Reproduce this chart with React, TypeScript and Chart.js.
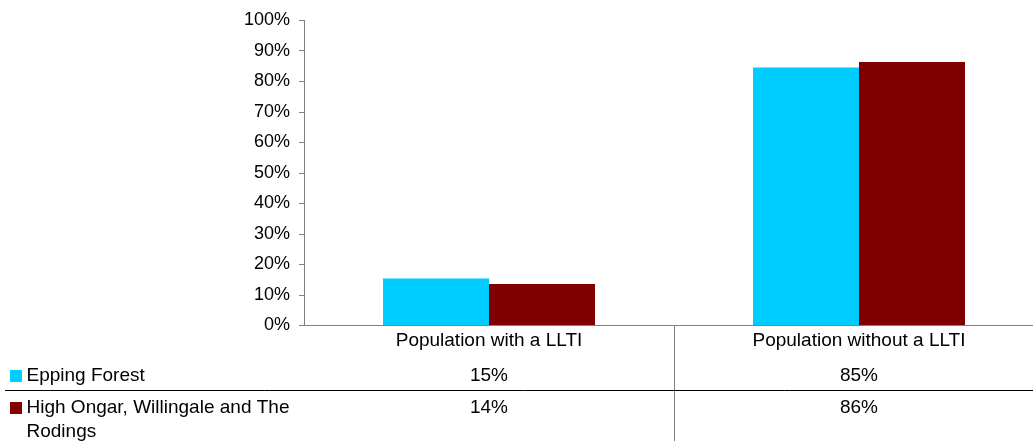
import React, { useEffect, useRef } from "react";
import { Chart, registerables } from "chart.js";

Chart.register(...registerables);

const categories = ["Population with a LLTI", "Population without a LLTI"];
const seriesNames = ["Epping Forest", "High Ongar, Willingale and The Rodings"];
const seriesLegendLines = [["Epping Forest"], ["High Ongar, Willingale and The", "Rodings"]];
const eppingForest = [15.4, 84.6];
const highOngar = [13.6, 86.4];
const eppingTable = ["15%", "85%"];
const highOngarTable = ["14%", "86%"];
const yTicks = [0, 10, 20, 30, 40, 50, 60, 70, 80, 90, 100];
const seriesColors = ["#00CCFF", "#800000"];

const FONT = '"Liberation Sans", Arial, sans-serif';
const TICK_FONT_SIZE = 18;
const TABLE_FONT_SIZE = 19;

const tablePlugin = {
  id: "dataTable",
  afterDraw(chart: any) {
    const ctx = chart.ctx;
    const xs = chart.scales.x;
    const area = chart.chartArea;
    const W = chart.width;
    const H = chart.height;
    ctx.save();
    ctx.font = `${TABLE_FONT_SIZE}px ${FONT}`;
    ctx.fillStyle = "#000000";
    ctx.textAlign = "center";
    ctx.textBaseline = "middle";
    const rowCat = 341;
    const rowVals = [376, 408];
    categories.forEach((c, i) => {
      const x = xs.getPixelForValue(i);
      ctx.fillText(c, x, rowCat);
      ctx.fillText(eppingTable[i], x, rowVals[0]);
      ctx.fillText(highOngarTable[i], x, rowVals[1]);
    });
    // vertical separators between categories
    ctx.strokeStyle = "#808080";
    ctx.lineWidth = 1;
    for (let i = 0; i < categories.length; i++) {
      const x = Math.round((xs.getPixelForValue(i) + xs.getPixelForValue(i + 1)) / 2) + 0.5;
      ctx.beginPath();
      ctx.moveTo(x, area.bottom);
      ctx.lineTo(x, H);
      ctx.stroke();
    }
    // horizontal line between rows
    ctx.strokeStyle = "#000000";
    ctx.beginPath();
    ctx.moveTo(5, 390.5);
    ctx.lineTo(W, 390.5);
    ctx.stroke();
    // legend keys
    ctx.textAlign = "left";
    const legendY = [[376], [408, 432]];
    seriesNames.forEach((_, s) => {
      ctx.fillStyle = seriesColors[s];
      ctx.fillRect(10, legendY[s][0] - 6, 12, 12);
      ctx.fillStyle = "#000000";
      seriesLegendLines[s].forEach((line, k) => {
        ctx.fillText(line, 26.5, legendY[s][k]);
      });
    });
    ctx.restore();
  },
};

export default function App() {
  const ref = useRef<HTMLCanvasElement>(null);
  useEffect(() => {
    if (!ref.current) return;
    const chart = new Chart(ref.current, {
      type: "bar",
      data: {
        labels: categories,
        datasets: [
          {
            label: seriesNames[0],
            data: eppingForest,
            backgroundColor: seriesColors[0],
            categoryPercentage: 0.573,
            barPercentage: 1,
          },
          {
            label: seriesNames[1],
            data: highOngar,
            backgroundColor: seriesColors[1],
            categoryPercentage: 0.573,
            barPercentage: 1,
          },
        ],
      },
      options: {
        responsive: false,
        animation: false,
        devicePixelRatio: 1,
        layout: { padding: { top: 20.5, left: 0, right: 0, bottom: 0 } },
        plugins: {
          legend: { display: false },
          tooltip: { enabled: false },
        },
        scales: {
          x: {
            grid: { display: false },
            border: { display: true, color: "#808080", width: 1 },
            ticks: { display: false },
            afterFit: (scale: any) => {
              scale.height = 441 - 325.5;
            },
          },
          y: {
            min: 0,
            max: 100,
            afterBuildTicks: (scale: any) => {
              scale.ticks = yTicks.map((v) => ({ value: v }));
            },
            grid: {
              display: true,
              drawOnChartArea: false,
              drawTicks: true,
              tickLength: 5,
              color: "#808080",
            },
            border: { display: true, color: "#808080", width: 1 },
            ticks: {
              padding: 9,
              color: "#000000",
              font: { family: FONT, size: TICK_FONT_SIZE },
              callback: (v: any) => `${v}%`,
            },
            afterFit: (scale: any) => {
              scale.width = 304;
            },
          },
        },
      },
      plugins: [tablePlugin],
    });
    return () => chart.destroy();
  }, []);
  return (
    <div
      style={{
        position: "absolute",
        left: 0,
        top: 0,
        width: 1033,
        height: 441,
        overflow: "hidden",
        background: "#ffffff",
      }}
    >
      <canvas ref={ref} width={1044} height={441} style={{ width: 1044, height: 441, display: "block" }} />
    </div>
  );
}
